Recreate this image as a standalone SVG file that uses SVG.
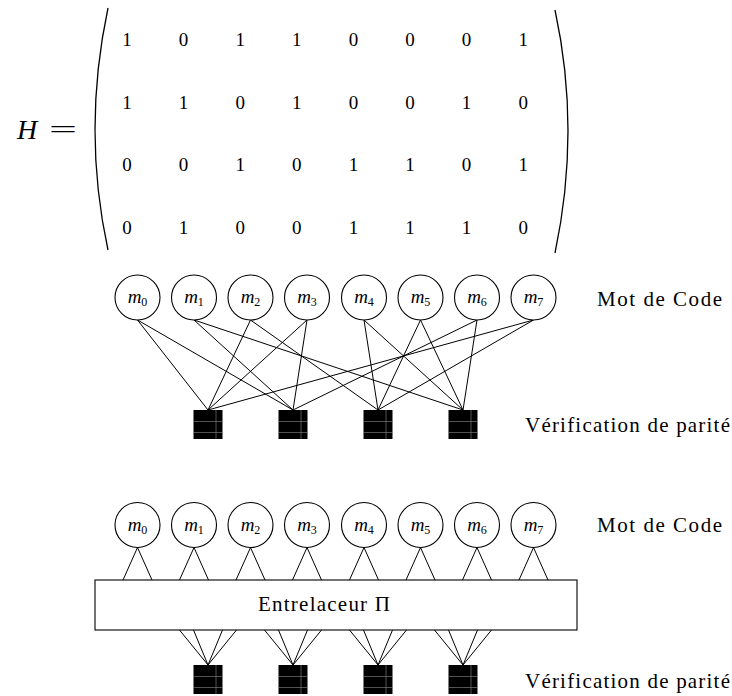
<svg xmlns="http://www.w3.org/2000/svg" width="732" height="696" viewBox="0 0 732 696" font-family="'Liberation Serif', 'Times New Roman', 'DejaVu Serif', serif">
<style>
text{font-family:'Liberation Serif','Times New Roman','DejaVu Serif',serif;fill:#000}
.d{font-size:19px;text-anchor:middle}
.lbl{font-size:21px}
.m{font-size:19px;font-style:italic;text-anchor:middle}
.sub{font-size:12px;font-style:normal}
.var circle{fill:#fff;stroke:#000;stroke-width:1.1}
.ck{fill:#000}
.ckl{stroke:#8a8a8a;stroke-width:0.6}
.edges line{stroke:#000;stroke-width:1}
.paren{fill:none;stroke:#000;stroke-width:1.3}
</style>
<defs>
<g id="chkshape">
<rect class="ck" x="-14.5" y="0" width="29" height="29" fill="#000"/>
<line class="ckl" x1="-14.5" y1="11.5" x2="14.5" y2="11.5" stroke="#8a8a8a" stroke-width="0.6"/>
<line class="ckl" x1="-14.5" y1="22.5" x2="14.5" y2="22.5" stroke="#8a8a8a" stroke-width="0.6"/>
<line class="ckl" x1="8" y1="0" x2="8" y2="29" stroke="#8a8a8a" stroke-width="0.6"/>
</g>
</defs>

<g id="matrix">
<text x="17" y="139" font-size="28" font-style="italic">H</text>
<text x="49" y="138" font-size="26" textLength="28" lengthAdjust="spacingAndGlyphs">=</text>
<path class="paren" d="M108,8 Q82,130 108,250"/>
<path class="paren" d="M555,10 Q581,130 555,253"/>
<g class="d">
<text x="127" y="46">1</text><text x="183.6" y="46">0</text><text x="240.2" y="46">1</text><text x="296.8" y="46">1</text><text x="353.4" y="46">0</text><text x="410" y="46">0</text><text x="466.6" y="46">0</text><text x="523.2" y="46">1</text>
<text x="127" y="108.5">1</text><text x="183.6" y="108.5">1</text><text x="240.2" y="108.5">0</text><text x="296.8" y="108.5">1</text><text x="353.4" y="108.5">0</text><text x="410" y="108.5">0</text><text x="466.6" y="108.5">1</text><text x="523.2" y="108.5">0</text>
<text x="127" y="171">0</text><text x="183.6" y="171">0</text><text x="240.2" y="171">1</text><text x="296.8" y="171">0</text><text x="353.4" y="171">1</text><text x="410" y="171">1</text><text x="466.6" y="171">0</text><text x="523.2" y="171">1</text>
<text x="127" y="233.5">0</text><text x="183.6" y="233.5">1</text><text x="240.2" y="233.5">0</text><text x="296.8" y="233.5">0</text><text x="353.4" y="233.5">1</text><text x="410" y="233.5">1</text><text x="466.6" y="233.5">1</text><text x="523.2" y="233.5">0</text>
</g>
</g>

<g id="edges-top" class="edges">
<line x1="137.5" y1="320" x2="208" y2="410"/>
<line x1="250.5" y1="320" x2="208" y2="410"/>
<line x1="307" y1="320" x2="208" y2="410"/>
<line x1="533.5" y1="320" x2="208" y2="410"/>
<line x1="137.5" y1="320" x2="293" y2="410"/>
<line x1="194" y1="320" x2="293" y2="410"/>
<line x1="307" y1="320" x2="293" y2="410"/>
<line x1="477" y1="320" x2="293" y2="410"/>
<line x1="250.5" y1="320" x2="378" y2="410"/>
<line x1="364" y1="320" x2="378" y2="410"/>
<line x1="420.5" y1="320" x2="378" y2="410"/>
<line x1="533.5" y1="320" x2="378" y2="410"/>
<line x1="194" y1="320" x2="463" y2="410"/>
<line x1="364" y1="320" x2="463" y2="410"/>
<line x1="420.5" y1="320" x2="463" y2="410"/>
<line x1="477" y1="320" x2="463" y2="410"/>
</g>

<g id="edges-bottom" class="edges">
<line x1="137.5" y1="547.5" x2="123" y2="580"/><line x1="137.5" y1="547.5" x2="152" y2="580"/>
<line x1="194" y1="547.5" x2="179.5" y2="580"/><line x1="194" y1="547.5" x2="208.5" y2="580"/>
<line x1="250.5" y1="547.5" x2="236" y2="580"/><line x1="250.5" y1="547.5" x2="265" y2="580"/>
<line x1="307" y1="547.5" x2="292.5" y2="580"/><line x1="307" y1="547.5" x2="321.5" y2="580"/>
<line x1="364" y1="547.5" x2="349.5" y2="580"/><line x1="364" y1="547.5" x2="378.5" y2="580"/>
<line x1="420.5" y1="547.5" x2="406" y2="580"/><line x1="420.5" y1="547.5" x2="435" y2="580"/>
<line x1="477" y1="547.5" x2="462.5" y2="580"/><line x1="477" y1="547.5" x2="491.5" y2="580"/>
<line x1="533.5" y1="547.5" x2="519" y2="580"/><line x1="533.5" y1="547.5" x2="548" y2="580"/>
<line x1="179.5" y1="630" x2="208" y2="665"/><line x1="193.5" y1="630" x2="208" y2="665"/><line x1="222.5" y1="630" x2="208" y2="665"/><line x1="236.5" y1="630" x2="208" y2="665"/>
<line x1="264.5" y1="630" x2="293" y2="665"/><line x1="278.5" y1="630" x2="293" y2="665"/><line x1="307.5" y1="630" x2="293" y2="665"/><line x1="321.5" y1="630" x2="293" y2="665"/>
<line x1="349.5" y1="630" x2="378" y2="665"/><line x1="363.5" y1="630" x2="378" y2="665"/><line x1="392.5" y1="630" x2="378" y2="665"/><line x1="406.5" y1="630" x2="378" y2="665"/>
<line x1="434.5" y1="630" x2="463" y2="665"/><line x1="448.5" y1="630" x2="463" y2="665"/><line x1="477.5" y1="630" x2="463" y2="665"/><line x1="491.5" y1="630" x2="463" y2="665"/>
</g>

<g id="var-top" class="var">
<g id="m0t"><circle cx="137.5" cy="297.5" r="22.5"/><text class="m" x="137.5" y="303">m<tspan class="sub" dy="3">0</tspan></text></g>
<g id="m1t"><circle cx="194" cy="297.5" r="22.5"/><text class="m" x="194" y="303">m<tspan class="sub" dy="3">1</tspan></text></g>
<g id="m2t"><circle cx="250.5" cy="297.5" r="22.5"/><text class="m" x="250.5" y="303">m<tspan class="sub" dy="3">2</tspan></text></g>
<g id="m3t"><circle cx="307" cy="297.5" r="22.5"/><text class="m" x="307" y="303">m<tspan class="sub" dy="3">3</tspan></text></g>
<g id="m4t"><circle cx="364" cy="297.5" r="22.5"/><text class="m" x="364" y="303">m<tspan class="sub" dy="3">4</tspan></text></g>
<g id="m5t"><circle cx="420.5" cy="297.5" r="22.5"/><text class="m" x="420.5" y="303">m<tspan class="sub" dy="3">5</tspan></text></g>
<g id="m6t"><circle cx="477" cy="297.5" r="22.5"/><text class="m" x="477" y="303">m<tspan class="sub" dy="3">6</tspan></text></g>
<g id="m7t"><circle cx="533.5" cy="297.5" r="22.5"/><text class="m" x="533.5" y="303">m<tspan class="sub" dy="3">7</tspan></text></g>
</g>

<g id="chk-top">
<g id="c0t"><use href="#chkshape" x="208" y="410"/></g>
<g id="c1t"><use href="#chkshape" x="293" y="410"/></g>
<g id="c2t"><use href="#chkshape" x="378" y="410"/></g>
<g id="c3t"><use href="#chkshape" x="463" y="410"/></g>
</g>

<g id="labels-top">
<text class="lbl" x="597" y="306" textLength="125" lengthAdjust="spacing">Mot de Code</text>
<text class="lbl" x="525" y="432" textLength="205" lengthAdjust="spacing">Vérification de parité</text>
</g>

<g id="var-bottom" class="var">
<g id="m0b"><circle cx="137.5" cy="525" r="22.5"/><text class="m" x="137.5" y="530.5">m<tspan class="sub" dy="3">0</tspan></text></g>
<g id="m1b"><circle cx="194" cy="525" r="22.5"/><text class="m" x="194" y="530.5">m<tspan class="sub" dy="3">1</tspan></text></g>
<g id="m2b"><circle cx="250.5" cy="525" r="22.5"/><text class="m" x="250.5" y="530.5">m<tspan class="sub" dy="3">2</tspan></text></g>
<g id="m3b"><circle cx="307" cy="525" r="22.5"/><text class="m" x="307" y="530.5">m<tspan class="sub" dy="3">3</tspan></text></g>
<g id="m4b"><circle cx="364" cy="525" r="22.5"/><text class="m" x="364" y="530.5">m<tspan class="sub" dy="3">4</tspan></text></g>
<g id="m5b"><circle cx="420.5" cy="525" r="22.5"/><text class="m" x="420.5" y="530.5">m<tspan class="sub" dy="3">5</tspan></text></g>
<g id="m6b"><circle cx="477" cy="525" r="22.5"/><text class="m" x="477" y="530.5">m<tspan class="sub" dy="3">6</tspan></text></g>
<g id="m7b"><circle cx="533.5" cy="525" r="22.5"/><text class="m" x="533.5" y="530.5">m<tspan class="sub" dy="3">7</tspan></text></g>
</g>

<g id="interleaver">
<rect x="95" y="580" width="482" height="50" fill="#fff" stroke="#000" stroke-width="1.1"/>
<text class="lbl" x="258" y="611" textLength="132" lengthAdjust="spacing">Entrelaceur Π</text>
</g>

<g id="chk-bottom">
<g id="c0b"><use href="#chkshape" x="208" y="665"/></g>
<g id="c1b"><use href="#chkshape" x="293" y="665"/></g>
<g id="c2b"><use href="#chkshape" x="378" y="665"/></g>
<g id="c3b"><use href="#chkshape" x="463" y="665"/></g>
</g>

<g id="labels-bottom">
<text class="lbl" x="597" y="532" textLength="125" lengthAdjust="spacing">Mot de Code</text>
<text class="lbl" x="525" y="688" textLength="205" lengthAdjust="spacing">Vérification de parité</text>
</g>
</svg>
